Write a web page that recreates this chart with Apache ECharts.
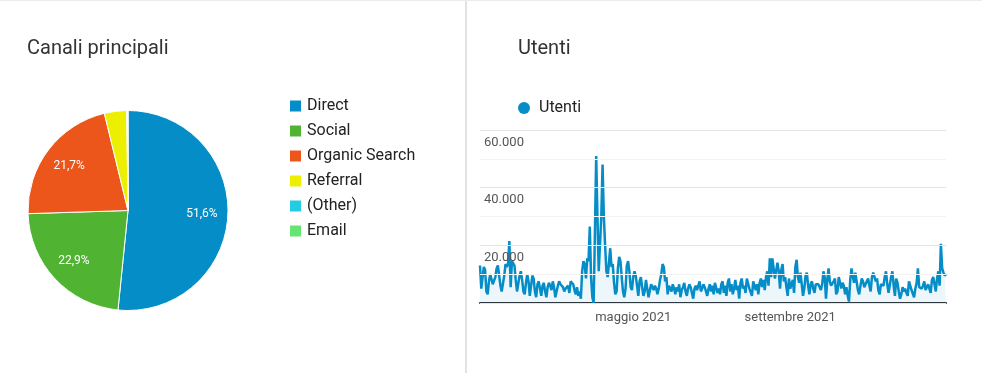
<!DOCTYPE html>
<html><head><meta charset="utf-8">
<script src="https://cdn.jsdelivr.net/npm/echarts@6/dist/echarts.min.js"></script>
<style>html,body{margin:0;padding:0;background:#fff}#c{width:982px;height:373px}</style>
</head><body><div id="c"></div>
<script>
// ---- Pie: Canali principali ----
const channelNames = ['Direct', 'Social', 'Organic Search', 'Referral', '(Other)', 'Email'];
const channelShares = [51.6, 22.9, 21.7, 3.6, 0.15, 0.05];
const channelColors = ['#058dc7', '#50b432', '#ed561b', '#edef00', '#24cbe5', '#64e572'];

// ---- Line: Utenti (daily, 1 Jan 2021 -> 1 Jan 2022) ----
const userStartDate = '2021-01-01';
const userValues = [
  13000, 5000, 4500, 12500, 11500, 4000, 3000, 7500, 10000, 9500, 6500, 7000, 9000, 12000, 13000, 12500, 6000, 4000, 4500, 9500, 13500, 12500, 13500, 21500, 5500, 14500, 14000, 13000, 8000, 4000, 4500,
  9500, 11000, 8000, 4000, 3000, 7000, 10000, 7500, 2500, 3000, 9500, 8500, 4000, 2000, 6500, 7500, 5000, 2500, 6000, 7000, 4000, 2000, 5500, 7000, 6000, 4500, 7500, 5500,
  2000, 1500, 6000, 7500, 6500, 7000, 5500, 4000, 5000, 5500, 6000, 3500, 7500, 7000, 6500, 4500, 3000, 5500, 2500, 4000, 1500, 11000, 14500, 13500, 8500, 15500, 14500, 26500, 9000, 2000, 0,
  24000, 51000, 30000, 11000, 11500, 30000, 48000, 30000, 20000, 11000, 9000, 14000, 19000, 12500, 13500, 7000, 3000, 4000, 12000, 16000, 14500, 9000, 4000, 2000, 5000, 13000, 14500, 11000, 5500, 4500,
  9000, 11000, 9500, 6000, 2500, 7500, 9000, 5500, 2500, 4000, 8000, 5000, 2000, 1500, 6500, 5500, 4500, 6000, 5000, 3000, 5000, 8000, 10000, 13500, 12500, 7500, 9000, 3000, 6000, 5500, 4000,
  6500, 5000, 3000, 5500, 4000, 6500, 2000, 4500, 5500, 7000, 4000, 2500, 5000, 6500, 5500, 3500, 1500, 5000, 6000, 4500, 6000, 7500, 4000, 5000, 6500, 5500, 4000, 2500, 5000, 6500,
  4000, 6000, 3000, 7000, 7500, 3500, 5000, 3000, 6500, 7500, 3500, 6000, 2500, 7000, 8500, 4000, 6500, 3000, 5000, 8000, 4500, 6000, 1500, 7000, 8500, 5000, 6000, 3500, 8500, 9000, 5000,
  5500, 2500, 7500, 8000, 4500, 6500, 3000, 7000, 8500, 5500, 8000, 4500, 9000, 11000, 6000, 15500, 9000, 15500, 16000, 8500, 8000, 14000, 11000, 5000, 11500, 13500, 7500, 9000, 5500, 2500, 8500,
  5000, 6500, 8000, 3500, 12500, 15000, 9000, 7000, 10500, 6500, 2500, 5000, 9500, 10500, 6000, 3000, 6500, 7500, 5000, 3500, 6500, 6000, 6500, 7000, 4500, 6500, 11000, 9000, 1500, 8000,
  12000, 7500, 6000, 5500, 7500, 8500, 3000, 4000, 9000, 8500, 5000, 7000, 6000, 3000, 5500, 2500, 500, 8000, 12000, 9000, 7000, 10500, 11000, 4500, 3000, 6000, 8500, 7500, 5500, 6500, 7500,
  8500, 6000, 4000, 9000, 10500, 11000, 7500, 8500, 4500, 3000, 6500, 7000, 6000, 9000, 11000, 6500, 3500, 4000, 9000, 11000, 6000, 2500, 8500, 7000, 4000, 1500, 3000, 5500, 4000, 5000,
  3500, 2500, 7500, 7000, 4500, 5000, 2000, 5000, 7000, 12000, 5500, 6000, 5000, 6000, 7500, 4500, 4000, 6500, 5000, 3500, 8000, 9000, 8500, 4000, 8500, 11000, 6000, 20500, 12000, 10500, 9500,
  10000
];
const yTickValues = [20000, 40000, 60000];
const xTickLabels = { '2021-05-01': 'maggio 2021', '2021-09-01': 'settembre 2021' };

// categories (dates) built from the start date, one per value
const userDates = [];
{
  const d0 = new Date(userStartDate + 'T00:00:00Z');
  for (let i = 0; i < userValues.length; i++) {
    const d = new Date(d0.getTime() + i * 86400000);
    userDates.push(d.toISOString().slice(0, 10));
  }
}

const pieData = channelNames.map((n, i) => ({ name: n, value: channelShares[i], itemStyle: { color: channelColors[i] } }));
const pieLabelData = channelNames.map((n, i) => ({ name: n, value: channelShares[i] }));

const FONT = 'Roboto, "Noto Sans", Arial, sans-serif';
const chart = echarts.init(document.getElementById('c'), null, { renderer: 'canvas' });
chart.setOption({
  animation: false,
  backgroundColor: '#fff',
  textStyle: { fontFamily: FONT },
  title: [
    { text: 'Canali principali', left: 27, top: 39, padding: 0, textStyle: { fontFamily: FONT, fontSize: 20, fontWeight: 'normal', color: '#333' } },
    { text: 'Utenti', left: 518, top: 39, padding: 0, textStyle: { fontFamily: FONT, fontSize: 20, fontWeight: 'normal', color: '#333' } }
  ],
  legend: [
    {
      data: channelNames, orient: 'vertical', left: 288, top: 98, padding: 0,
      icon: 'rect', itemWidth: 13, itemHeight: 13, itemGap: 9,
      textStyle: { fontFamily: FONT, fontSize: 16, color: '#222' },
      selectedMode: false
    },
    {
      data: ['Utenti'], left: 518, top: 100, padding: 0,
      icon: 'circle', itemWidth: 12, itemHeight: 12, itemGap: 10,
      textStyle: { fontFamily: FONT, fontSize: 16, color: '#222', padding: [0, 0, 0, 4] },
      selectedMode: false
    }
  ],
  grid: { left: 480, right: 36, top: 130, bottom: 70, containLabel: false },
  xAxis: {
    type: 'category', data: userDates, boundaryGap: false,
    axisLine: { show: true, lineStyle: { color: '#333', width: 2 } },
    axisTick: { show: false },
    splitLine: { show: false },
    axisLabel: {
      interval: (idx, val) => Object.prototype.hasOwnProperty.call(xTickLabels, val),
      formatter: (val) => xTickLabels[val] || '',
      color: '#555', fontSize: 13, fontFamily: FONT, margin: 8
    }
  },
  yAxis: {
    type: 'value', min: 0, max: 60000, interval: 10000,
    axisLine: { show: false }, axisTick: { show: false },
    splitLine: { show: true, lineStyle: { color: ['#e4e4e4', '#f3f3f3'], width: 1 } },
    axisLabel: {
      inside: true, verticalAlign: 'top', margin: 4, padding: [6, 0, 0, 0],
      color: '#555', fontSize: 13, fontFamily: FONT,
      formatter: (v) => yTickValues.includes(v) ? (v / 1000) + '.000' : ''
    },
    z: 3
  },
  series: [
    {
      type: 'pie', name: 'Canali', center: [128, 210.5], radius: [0, 100],
      startAngle: 90, clockwise: true, avoidLabelOverlap: false,
      minAngle: 0, data: pieData,
      itemStyle: { borderColor: '#fff', borderWidth: 1 },
      label: { show: false }, labelLine: { show: false },
      emphasis: { disabled: true }
    },
    {
      type: 'pie', name: 'CanaliLabels', center: [128, 210.5], radius: [42, 100],
      startAngle: 90, clockwise: true, silent: true, avoidLabelOverlap: false,
      data: pieLabelData, legendHoverLink: false,
      itemStyle: { color: 'rgba(0,0,0,0)', borderWidth: 0 },
      label: {
        show: true, position: 'inside', color: '#fff', fontSize: 12, fontFamily: FONT,
        formatter: (p) => p.percent > 5 ? p.percent.toFixed(1).replace('.', ',') + '%' : ''
      },
      labelLine: { show: false },
      emphasis: { disabled: true }
    },
    {
      type: 'line', name: 'Utenti', data: userValues,
      showSymbol: false, symbol: 'none', smooth: false,
      lineStyle: { color: '#058dc7', width: 2.5 },
      itemStyle: { color: '#058dc7' },
      areaStyle: { color: 'rgba(5,141,199,0.1)' },
      z: 2
    }
  ],
  graphic: [
    { type: 'line', shape: { x1: 466, y1: 0, x2: 466, y2: 373 }, style: { stroke: '#e3e3e3', lineWidth: 2 }, silent: true },
    { type: 'line', shape: { x1: 0, y1: 0.5, x2: 982, y2: 0.5 }, style: { stroke: '#ececec', lineWidth: 1 }, silent: true }
  ]
});
</script>
</body></html>
